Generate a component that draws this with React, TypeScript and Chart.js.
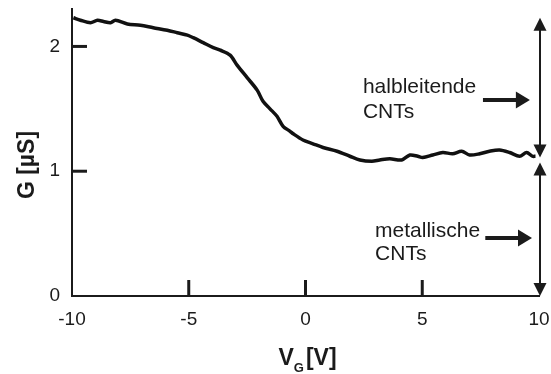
import { useEffect, useRef } from 'react';
import { Chart, registerables } from 'chart.js';

Chart.register(...registerables);

// Gate voltage sweep V_G [V] and measured conductance G [µS]
const gateVoltage = [
  -9.94, -9.64, -9.21, -8.91, -8.65, -8.35, -8.14, -7.63, -7.07, -6.52,
  -5.92, -5.49, -5.06, -4.81, -4.38, -3.95, -3.65, -3.23, -2.93, -2.5,
  -2.07, -1.82, -1.52, -1.22, -0.96, -0.66, -0.53, -0.11, 0.32, 0.75,
  1.35, 1.9, 2.33, 2.84, 3.18, 3.61, 4.12, 4.47, 4.81, 5.02,
  5.45, 5.88, 6.3, 6.69, 7.03, 7.46, 7.88, 8.31, 8.74, 9.17,
  9.47, 9.72, 9.85,
];
const conductance = [
  2.23, 2.21, 2.19, 2.21, 2.2, 2.19, 2.21, 2.18, 2.17, 2.15,
  2.13, 2.11, 2.09, 2.07, 2.03, 1.99, 1.97, 1.93, 1.85, 1.75,
  1.65, 1.56, 1.5, 1.44, 1.36, 1.32, 1.3, 1.25, 1.22, 1.19,
  1.16, 1.12, 1.09, 1.08, 1.09, 1.1, 1.09, 1.13, 1.12, 1.11,
  1.13, 1.15, 1.14, 1.16, 1.13, 1.14, 1.16, 1.17, 1.15, 1.12,
  1.15, 1.12, 1.12,
];

// Axis tick labels and inward tick marks
const xTickValues = [-10, -5, 0, 5, 10];
const yTickValues = [0, 1, 2];
const xTickMarks = [-5, 0, 5];
const yTickMarks = [1, 2];

// Conductance ranges marked by the double arrows at V_G = 10 V
const semiconductingRange = [1.11, 2.23];
const metallicRange = [0, 1.07];
const semiconductingLabel = ['halbleitende', 'CNTs'];
const metallicLabel = ['metallische', 'CNTs'];

const FONT = "'Liberation Sans', Arial, Helvetica, sans-serif";
const INK = '#1b1b1b';

type Dir = 'up' | 'down' | 'right';

function head(ctx: CanvasRenderingContext2D, x: number, y: number, dir: Dir, len: number, half: number) {
  ctx.beginPath();
  if (dir === 'up') {
    ctx.moveTo(x, y);
    ctx.lineTo(x - half, y + len);
    ctx.lineTo(x + half, y + len);
  } else if (dir === 'down') {
    ctx.moveTo(x, y);
    ctx.lineTo(x - half, y - len);
    ctx.lineTo(x + half, y - len);
  } else {
    ctx.moveTo(x, y);
    ctx.lineTo(x - len, y - half);
    ctx.lineTo(x - len, y + half);
  }
  ctx.closePath();
  ctx.fill();
}

const decorations = {
  id: 'decorations',
  afterDraw(chart: any) {
    const { ctx, chartArea } = chart;
    const xs = chart.scales.x;
    const ys = chart.scales.y;
    ctx.save();
    ctx.strokeStyle = INK;
    ctx.fillStyle = INK;
    ctx.lineCap = 'butt';

    // inward tick marks
    ctx.lineWidth = 3;
    xTickMarks.forEach((v) => {
      const px = xs.getPixelForValue(v);
      ctx.beginPath();
      ctx.moveTo(px, chartArea.bottom);
      ctx.lineTo(px, chartArea.bottom - 16);
      ctx.stroke();
    });
    yTickMarks.forEach((v) => {
      const py = ys.getPixelForValue(v);
      ctx.beginPath();
      ctx.moveTo(chartArea.left, py);
      ctx.lineTo(chartArea.left + 15, py);
      ctx.stroke();
    });

    // vertical double arrows
    const ax = xs.getPixelForValue(10) + 1;
    const hl = 13;
    const hw = 6.5;
    [semiconductingRange, metallicRange].forEach(([lo, hi]) => {
      const yTop = ys.getPixelForValue(hi);
      const yBot = ys.getPixelForValue(lo);
      ctx.lineWidth = 2;
      ctx.beginPath();
      ctx.moveTo(ax, yTop + hl - 1);
      ctx.lineTo(ax, yBot - hl + 1);
      ctx.stroke();
      head(ctx, ax, yTop, 'up', hl, hw);
      head(ctx, ax, yBot, 'down', hl, hw);
    });

    // horizontal arrows pointing at the ranges
    const hArrow = (g: number, x0: number, x1: number) => {
      const py = ys.getPixelForValue(g);
      const p0 = xs.getPixelForValue(x0);
      const p1 = xs.getPixelForValue(x1);
      ctx.lineWidth = 4;
      ctx.beginPath();
      ctx.moveTo(p0, py);
      ctx.lineTo(p1 - 12, py);
      ctx.stroke();
      head(ctx, p1, py, 'right', 14, 8.5);
    };
    hArrow(1.57, 7.6, 9.61);
    hArrow(0.465, 7.7, 9.7);

    // range labels
    ctx.font = `21px ${FONT}`;
    ctx.textAlign = 'left';
    ctx.textBaseline = 'alphabetic';
    const label = (lines: string[], xv: number, g0: number, g1: number) => {
      const px = xs.getPixelForValue(xv);
      ctx.fillText(lines[0], px, ys.getPixelForValue(g0));
      ctx.fillText(lines[1], px, ys.getPixelForValue(g1));
    };
    label(semiconductingLabel, 2.46, 1.627, 1.427);
    label(metallicLabel, 2.98, 0.473, 0.289);

    // y-axis title
    ctx.save();
    ctx.translate(28, 165);
    ctx.rotate(-Math.PI / 2);
    ctx.font = `bold 23px ${FONT}`;
    ctx.textAlign = 'center';
    ctx.textBaseline = 'middle';
    ctx.fillText('G [µS]', 0, 0);
    ctx.restore();

    // x-axis title with subscript
    const big = `bold 23px ${FONT}`;
    const small = `bold 13px ${FONT}`;
    ctx.font = big;
    const wV = ctx.measureText('V').width;
    const wB = ctx.measureText('[V]').width;
    ctx.font = small;
    const wG = ctx.measureText('G').width;
    const total = wV + wG + 2 + wB;
    let tx = xs.getPixelForValue(0) + 2 - total / 2;
    const base = 365;
    ctx.font = big;
    ctx.fillText('V', tx, base);
    tx += wV;
    ctx.font = small;
    ctx.fillText('G', tx, base + 7);
    tx += wG + 2;
    ctx.font = big;
    ctx.fillText('[V]', tx, base);

    ctx.restore();
  },
};

export default function App() {
  const canvasRef = useRef<HTMLCanvasElement | null>(null);

  useEffect(() => {
    const canvas = canvasRef.current;
    if (!canvas) return;
    const chart = new Chart(canvas, {
      type: 'line',
      data: {
        datasets: [
          {
            data: gateVoltage.map((v, i) => ({ x: v, y: conductance[i] })),
            borderColor: '#111',
            borderWidth: 3.5,
            pointRadius: 0,
            tension: 0.3,
            fill: false,
          },
        ],
      },
      options: {
        animation: false,
        responsive: true,
        maintainAspectRatio: false,
        layout: { padding: { top: 9, right: 12, left: 0, bottom: 0 } },
        plugins: { legend: { display: false }, tooltip: { enabled: false } },
        scales: {
          x: {
            type: 'linear',
            min: -10,
            max: 10,
            afterBuildTicks: (scale: any) => {
              scale.ticks = xTickValues.map((value) => ({ value }));
            },
            afterFit: (scale: any) => {
              scale.height = 78;
              scale.paddingLeft = 0;
              scale.paddingRight = 0;
            },
            grid: { display: true, drawOnChartArea: false, drawTicks: false },
            border: { display: true, color: INK, width: 2 },
            ticks: {
              color: INK,
              font: { family: FONT, size: 19 },
              padding: 12,
              maxRotation: 0,
              autoSkip: false,
            },
          },
          y: {
            type: 'linear',
            min: 0,
            max: 2.3,
            afterBuildTicks: (scale: any) => {
              scale.ticks = yTickValues.map((value) => ({ value }));
            },
            afterFit: (scale: any) => {
              scale.width = 72;
              scale.paddingTop = 0;
              scale.paddingBottom = 0;
            },
            grid: { display: true, drawOnChartArea: false, drawTicks: false },
            border: { display: true, color: INK, width: 2 },
            ticks: {
              color: INK,
              font: { family: FONT, size: 19 },
              padding: 12,
              autoSkip: false,
            },
          },
        },
      },
      plugins: [decorations],
    });
    return () => chart.destroy();
  }, []);

  return (
    <div style={{ position: 'fixed', left: 0, top: 0, width: 551, height: 374, background: '#fff' }}>
      <canvas ref={canvasRef} />
    </div>
  );
}
